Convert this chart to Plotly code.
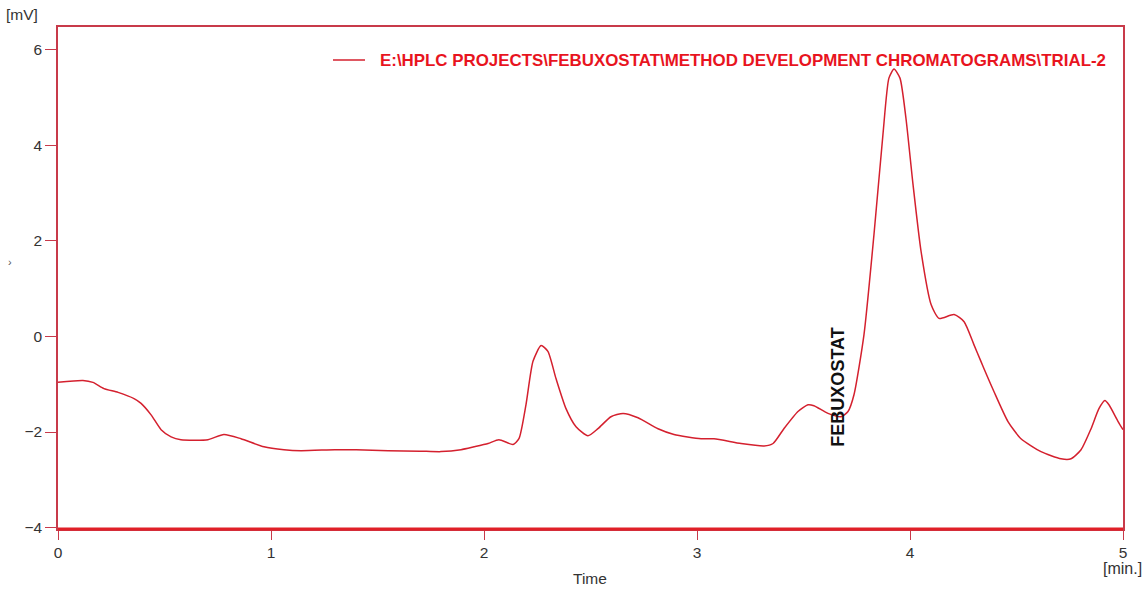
import plotly.graph_objects as go

time_min = [0.0, 0.117, 0.164, 0.216, 0.282, 0.357, 0.390, 0.437, 0.484, 0.531, 0.577,
            0.704, 0.779, 0.859, 0.967, 1.061, 1.141, 1.30, 1.40, 1.55, 1.70, 1.798,
            1.892, 1.953, 2.019, 2.070, 2.136, 2.164, 2.197, 2.230, 2.268, 2.300, 2.338,
            2.385, 2.432, 2.488, 2.535, 2.596, 2.653, 2.723, 2.817, 2.892, 3.019, 3.080,
            3.207, 3.315, 3.357, 3.408, 3.474, 3.521, 3.549, 3.615, 3.676, 3.709, 3.737,
            3.784, 3.831, 3.873, 3.901, 3.925, 3.953, 3.981, 4.014, 4.052, 4.099, 4.136,
            4.207, 4.254, 4.300, 4.333, 4.347, 4.394, 4.460, 4.521, 4.615, 4.709, 4.756,
            4.803, 4.850, 4.887, 4.915, 4.934, 4.977, 5.000]
signal_mv = [-0.96, -0.92, -0.96, -1.09, -1.17, -1.30, -1.40, -1.64, -1.95, -2.10, -2.16,
             -2.16, -2.05, -2.14, -2.31, -2.37, -2.39, -2.37, -2.37, -2.39, -2.40, -2.41,
             -2.37, -2.31, -2.24, -2.16, -2.26, -2.14, -1.43, -0.52, -0.19, -0.31, -0.88,
             -1.51, -1.89, -2.08, -1.93, -1.68, -1.61, -1.70, -1.93, -2.05, -2.14, -2.14,
             -2.24, -2.29, -2.24, -1.93, -1.57, -1.43, -1.45, -1.61, -1.68, -1.57, -1.22,
             0.04, 2.14, 4.23, 5.41, 5.60, 5.41, 4.57, 3.19, 1.78, 0.67, 0.38,
             0.46, 0.31, -0.17, -0.52, -0.67, -1.15, -1.78, -2.14, -2.41, -2.56, -2.56,
             -2.37, -1.93, -1.51, -1.34, -1.43, -1.78, -1.95]

x_ticks = [0, 1, 2, 3, 4, 5]
y_ticks = [-4, -2, 0, 2, 4, 6]
series_name = "E:\\HPLC PROJECTS\\FEBUXOSTAT\\METHOD DEVELOPMENT CHROMATOGRAMS\\TRIAL-2"
peak_label = "FEBUXOSTAT"
peak_time = 3.662
peak_label_y = -1.07

W, H = 1146, 592
L, R, T, B = 58, 23, 27, 63
pw, ph = W - L - R, H - T - B


def px(xp):
    return (xp - L) / pw


def py(yp):
    return (H - B - yp) / ph


fig = go.Figure()
fig.add_trace(go.Scatter(x=time_min, y=signal_mv, mode="lines",
                         line=dict(color="#d4202e", width=1.5, shape="spline", smoothing=0.6),
                         name=series_name, showlegend=False, hoverinfo="x+y"))

FONT = "Liberation Sans, Arial, sans-serif"
axis_font = dict(family=FONT, size=15.5, color="#333333")
fig.update_xaxes(range=[0, 5], tickvals=x_ticks, ticks="outside", ticklen=9, tickcolor="#c83a4a",
                 showline=True, linecolor="#c83a4a", linewidth=1.5, mirror=True,
                 showgrid=False, zeroline=False, tickfont=axis_font)
fig.update_yaxes(range=[-4.03, 6.48], tickvals=y_ticks, ticks="outside", ticklen=11, tickcolor="#c83a4a",
                 showline=True, linecolor="#c83a4a", linewidth=1.5, mirror=True,
                 showgrid=False, zeroline=False, tickfont=axis_font)

fig.add_shape(type="line", xref="paper", yref="paper", x0=0, x1=1, y0=0, y1=0,
              line=dict(color="#e02028", width=3))
fig.add_shape(type="line", xref="paper", yref="paper", x0=px(333), x1=px(365),
              y0=py(60), y1=py(60), line=dict(color="#d4202e", width=1.5))

anns = [
    dict(text="<b>" + series_name + "</b>", x=px(378), y=py(60), xanchor="left", yanchor="middle",
         font=dict(family=FONT, size=16.9, color="#e8141e")),
    dict(text="[mV]", x=px(22), y=py(14), xanchor="center", yanchor="middle",
         font=dict(family=FONT, size=15.5, color="#333333")),
    dict(text="Time", x=px(590), y=py(578), xanchor="center", yanchor="middle",
         font=dict(family=FONT, size=15.5, color="#333333")),
    dict(text="[min.]", x=px(1101), y=py(568), xanchor="left", yanchor="middle",
         font=dict(family=FONT, size=16, color="#333333")),
    dict(text="›", x=px(10), y=py(262), xanchor="center", yanchor="middle",
         font=dict(family=FONT, size=11, color="#555555")),
]
for a in anns:
    a.update(xref="paper", yref="paper", showarrow=False)
    fig.add_annotation(**a)

fig.add_annotation(text="<b>" + peak_label + "</b>", x=peak_time, y=peak_label_y,
                   xref="x", yref="y", textangle=-90, showarrow=False,
                   font=dict(family=FONT, size=18, color="#111111"))

fig.update_layout(width=W, height=H, margin=dict(l=L, r=R, t=T, b=B),
                  plot_bgcolor="white", paper_bgcolor="white", showlegend=False)

fig.write_html("out.html", config={"displayModeBar": False})
